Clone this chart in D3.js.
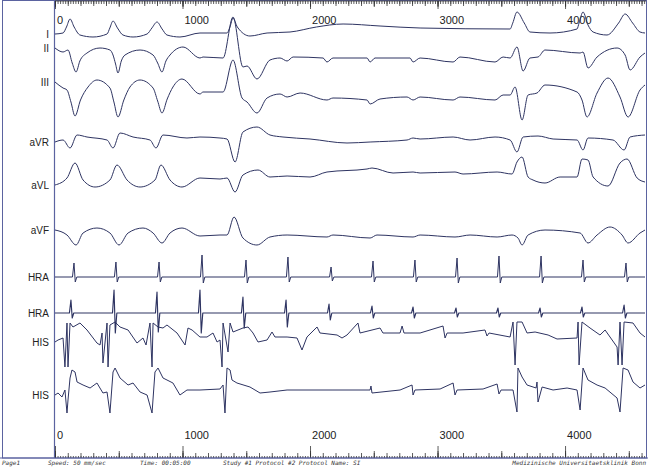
<!DOCTYPE html>
<html>
<head>
<meta charset="utf-8">
<script src="https://cdn.jsdelivr.net/npm/d3@7"></script>
<style>
  body { margin: 0; background: #fff; }
  svg { display: block; }
  .lbl { font-family: "Liberation Sans", Arial, sans-serif; font-size: 10px; fill: #222; }
  .foot { font-family: "DejaVu Sans Mono", monospace; font-size: 6px; font-style: italic; fill: #333; }
</style>
</head>
<body>
<div id="chart"></div>
<script>
// time in ms, amplitude in mV-ish units (up = positive)
var channelNames = ["I", "II", "III", "aVR", "aVL", "aVF", "HRA", "HRA", "HIS", "HIS"];
var tickLabels = ["0", "1000", "2000", "3000", "4000"];

var leadI = [[0,-0.05],[63,0],[90,0.3],[118,0.7],[150,0.3],[196,-0.1],[298,-0.2],[408,-0.05],[430,0.25],[455,0.6],[490,0.25],[533,-0.1],[612,-0.2],[722,-0.05],[760,0.25],[800,0.55],[840,0.2],[878,-0.1],[980,-0.2],[1137,0],[1349,0],[1372,0.3],[1396,0.75],[1430,0.3],[1529,-0.15],[1663,0],[1843,0.05],[2050,0.3],[2259,0.45],[2549,0.35],[2863,0.25],[3569,0.2],[3590,0.5],[3623,1.05],[3680,0.5],[3725,0.05],[3882,0],[4094,0.2],[4110,0.5],[4141,1.05],[4180,0.4],[4220,0.05],[4329,-0.1],[4420,0.5],[4471,0.95],[4530,0.5],[4588,0.05],[4627,0]];
var leadII = [[0,0.45],[63,0.25],[102,0.35],[135,-0.3],[165,-0.75],[195,-0.2],[251,0.2],[353,0.45],[431,0.35],[455,0.1],[475,-0.35],[494,-0.8],[520,-0.2],[549,0.1],[667,0.35],[769,0.1],[805,-0.3],[839,-0.75],[870,-0.2],[902,0.1],[1004,0.5],[1137,-0.05],[1161,0],[1318,-0.05],[1396,2.0],[1474,-0.5],[1506,-0.45],[1584,-1.1],[1686,-0.15],[1765,-0.05],[1820,-0.2],[1867,0],[2102,-0.05],[2133,-0.25],[2180,-0.05],[2447,-0.05],[2471,-0.25],[2510,-0.05],[2784,-0.05],[2808,-0.25],[2863,-0.05],[3122,-0.25],[3176,0],[3451,-0.25],[3514,0],[3569,-0.05],[3623,0.5],[3671,-0.7],[3725,-0.05],[3788,0],[3843,0.35],[4118,0.2],[4141,0.25],[4180,-0.55],[4251,0],[4408,0.45],[4471,0.1],[4510,-0.65],[4588,0],[4627,0.2]];
var leadIII = [[0,0.5],[63,0.2],[94,0.1],[125,-0.5],[157,-1.2],[200,-0.4],[259,0.25],[329,0.6],[431,0.2],[462,-0.5],[494,-1.25],[540,-0.4],[588,0.25],[667,0.6],[769,0.2],[805,-0.45],[839,-1.05],[880,-0.35],[925,0.25],[996,0.65],[1137,-0.1],[1161,0],[1318,0],[1396,1.6],[1467,-0.3],[1506,-0.5],[1584,-1.05],[1663,-0.3],[1765,-0.1],[1820,-0.25],[1922,-0.05],[2133,-0.4],[2180,-0.3],[2447,-0.4],[2471,-0.6],[2549,-0.35],[2761,-0.25],[2808,-0.4],[2863,-0.25],[3122,-0.4],[3176,-0.25],[3451,-0.4],[3514,-0.15],[3569,-0.15],[3608,0.25],[3663,-1.4],[3710,-0.15],[3780,-0.05],[3843,0.35],[4094,0],[4133,-0.4],[4172,-1.25],[4251,-0.05],[4337,0.7],[4431,-0.25],[4494,-1.25],[4588,0.1],[4627,0.35]];
var leadAVR = [[0,-0.15],[63,-0.05],[118,-0.45],[173,0.2],[251,0.1],[408,-0.05],[455,-0.45],[510,0.3],[612,0.1],[745,-0.05],[792,-0.45],[847,0.2],[1035,0.05],[1137,0.1],[1294,0.05],[1349,0],[1412,-1.15],[1474,0.35],[1584,0.6],[1686,0.2],[1788,0.1],[2000,0],[2290,-0.2],[2471,-0.15],[2761,-0.05],[2808,0.05],[2863,0],[3122,0.1],[3255,-0.05],[3451,0.1],[3569,-0.05],[3623,-0.65],[3671,0.1],[3788,0.15],[3906,0],[4094,-0.05],[4141,-0.55],[4180,0.05],[4376,-0.05],[4463,-0.55],[4510,0.1],[4627,0.2]];
var leadAVL = [[0,-0.35],[94,0],[157,0.75],[220,-0.1],[314,-0.45],[431,-0.1],[486,0.65],[565,-0.1],[667,-0.45],[784,-0.1],[831,0.65],[902,-0.1],[996,-0.45],[1137,0],[1294,-0.05],[1349,0],[1412,-0.7],[1474,0.15],[1592,0.4],[1686,0.05],[1820,0.1],[2000,0.05],[2133,0.3],[2447,0.45],[2486,0.5],[2651,0.25],[2808,0.3],[2863,0.25],[3137,0.3],[3200,0.2],[3467,0.3],[3584,0.2],[3623,0.8],[3663,1.05],[3710,0.05],[3749,-0.1],[3843,-0.25],[3961,0.05],[4094,0.05],[4133,0.95],[4180,0.9],[4220,0.05],[4337,-0.4],[4431,0.75],[4486,0.95],[4565,0],[4627,-0.2]];
var leadAVF = [[0,0.25],[94,0],[165,-0.5],[220,0.1],[329,0.35],[431,0.1],[502,-0.5],[573,0.1],[690,0.35],[769,0.1],[839,-0.4],[902,0.1],[996,0.35],[1137,-0.05],[1294,0],[1349,0],[1404,0.9],[1474,-0.15],[1584,-0.5],[1686,-0.1],[1820,0],[2133,-0.1],[2180,0],[2471,-0.15],[2525,0],[2808,-0.1],[2863,0],[3137,-0.1],[3255,0],[3467,-0.1],[3584,0],[3631,-0.15],[3663,-0.5],[3710,0],[3843,0.25],[4118,0.1],[4180,-0.4],[4251,0],[4353,0.4],[4447,0],[4494,-0.4],[4588,0.1],[4627,0.25]];

// atrial spikes: time, height above and depth below baseline
var hra1Times = [149, 478, 816, 1153, 1498, 1827, 2165, 2494, 2823, 3153, 3482, 3812, 4141, 4478];
var hra1Up = [0.7, 0.75, 0.75, 1.1, 0.85, 1.0, 0.5, 0.8, 0.85, 0.95, 1.05, 1.05, 0.85, 0.7];
var hra1Down = [0.25, 0.25, 0.25, 0.3, 0.3, 0.25, 0.2, 0.25, 0.25, 0.3, 0.3, 0.3, 0.25, 0.25];
var hra2Times = [125, 463, 800, 1137, 1474, 1812, 2149, 2486, 2808, 3145, 3474, 3804, 4133, 4463];
var hra2Up = [0.65, 1.15, 1.05, 1.15, 0.8, 0.65, 0.45, 0.35, 0.3, 0.25, 0.25, 0.25, 0.3, 0.4];
var hra2Down = [0.25, 1.0, 0.95, 1.0, 0.75, 0.7, 0.35, 0.25, 0.25, 0.2, 0.2, 0.2, 0.2, 0.25];

var his1 = [[0,-0.35],[24,-0.25],[63,-0.15],[78,-1.6],[94,0.6],[102,-1.6],[118,0.6],[141,0.4],[196,0.6],[251,0.25],[329,-0.4],[353,-0.5],[369,0.1],[376,-1.4],[408,0.6],[416,-1.6],[431,0.5],[471,0.65],[510,0.4],[573,0.25],[643,-0.4],[690,-0.15],[714,-0.5],[745,0.6],[761,-1.6],[769,0.6],[808,0.4],[847,0.35],[878,0.5],[957,0.1],[1020,-0.5],[1043,0.35],[1075,0.25],[1137,-0.1],[1192,-0.1],[1239,0.1],[1271,-0.35],[1294,-0.25],[1310,-1.6],[1318,0.6],[1357,-0.85],[1373,0.6],[1396,0.15],[1474,0.35],[1514,0.4],[1553,0.1],[1592,-0.35],[1663,-0.25],[1702,0.15],[1725,-0.1],[1820,-0.1],[1898,-0.15],[1937,-0.75],[1976,-0.1],[2055,0.4],[2078,0.1],[2212,0],[2251,-0.15],[2290,0],[2376,0.6],[2392,0.1],[2549,0.35],[2572,0.1],[2706,0.1],[2722,0.45],[2737,0.1],[2863,0.1],[3043,0.45],[3059,-0.15],[3075,0.1],[3200,0.1],[3372,0.25],[3388,-0.05],[3404,0.1],[3569,-0.1],[3592,0.65],[3608,-1.5],[3623,0.65],[3663,0.65],[3702,0.1],[3765,0.15],[3867,0],[3937,-0.2],[4094,-0.15],[4102,0.65],[4110,-1.5],[4133,0.65],[4196,0.35],[4274,0],[4314,0.25],[4408,-0.6],[4416,-1.5],[4431,0.65],[4447,-1.5],[4463,0.65],[4533,0.6],[4588,0.1],[4627,-0.1]];
var his2 = [[0,-0.25],[24,-0.15],[55,-0.35],[78,0],[94,-1.15],[102,-0.5],[118,0.6],[133,1.0],[157,0.9],[173,0.4],[220,0.25],[275,0.1],[329,0.35],[376,-0.15],[408,-0.1],[431,-1.15],[455,0.9],[471,1.1],[510,0.6],[573,0.25],[612,0.35],[667,-0.1],[722,-0.25],[761,-1.15],[784,0.9],[808,1.1],[847,0.6],[925,0.35],[980,-0.25],[1035,0],[1137,0],[1294,0.05],[1318,0.25],[1333,-1.15],[1349,1.1],[1373,1.0],[1388,0.5],[1427,0.35],[1529,0.15],[1608,-0.15],[1686,-0.1],[1820,0],[2180,0],[2471,0],[2478,0.2],[2486,-0.15],[2706,0],[2800,0.25],[2808,-0.25],[2823,0],[3020,0.05],[3122,0.35],[3137,-0.25],[3153,0],[3357,0.05],[3467,0.3],[3482,-0.2],[3498,0],[3592,0],[3623,-1.1],[3631,1.1],[3663,0.65],[3702,0.25],[3773,0.1],[3780,0.4],[3788,-0.6],[3820,0.15],[3906,0],[4016,0.1],[4094,0],[4118,-1.0],[4141,1.1],[4180,0.5],[4251,0.25],[4314,0.1],[4408,-0.4],[4431,-1.1],[4455,1.1],[4494,1.0],[4533,0.4],[4588,0.1],[4627,0.25]];

var footLeft = ["Page1", "Speed: 50 mm/sec", "Time: 00:05:00", "Study #1  Protocol #2  Protocol Name: SI"];
var footRight = "Medizinische Universitaetsklinik Bonn";

var width = 650, height = 472;
var traceColor = "#2e3462", frameColor = "#5b63a0";
// baseline of each channel, in px
var rowBase = [33, 57, 92, 139, 178, 235, 277, 313, 335, 390];

var x = d3.scaleLinear().domain([0, 4627]).range([55, 645]);
var gain = d3.scaleLinear().domain([-1, 1]).range([20, -20]);

var svg = d3.select("#chart").append("svg").attr("width", width).attr("height", height);

// spike events to a trace
function spikeTrace(times, up, down) {
  var pts = [[0, 0]];
  times.forEach(function (t, i) {
    pts.push([t - 12, 0], [t, up[i]], [t + 10, -down[i]], [t + 22, 0]);
  });
  pts.push([4627, 0]);
  return pts;
}

var channels = [
  { data: leadI, smooth: true }, { data: leadII, smooth: true }, { data: leadIII, smooth: true },
  { data: leadAVR, smooth: true }, { data: leadAVL, smooth: true }, { data: leadAVF, smooth: true },
  { data: spikeTrace(hra1Times, hra1Up, hra1Down), smooth: false },
  { data: spikeTrace(hra2Times, hra2Up, hra2Down), smooth: false },
  { data: his1, smooth: false }, { data: his2, smooth: false }
];

// frame
svg.append("rect").attr("x", 2.5).attr("y", 0.5).attr("width", 644).attr("height", 457.5)
  .attr("fill", "none").attr("stroke", frameColor).attr("stroke-width", 1);
svg.append("line").attr("x1", 54.5).attr("x2", 54.5).attr("y1", 0).attr("y2", 458)
  .attr("stroke", frameColor).attr("stroke-width", 1.2);

// rulers
function ruler(axisFn, yPos, step, size) {
  var g = svg.append("g").attr("transform", "translate(0," + yPos + ")")
    .call(axisFn(x).tickValues(d3.range(0, 4627, step)).tickSize(size).tickFormat(""));
  g.select(".domain").remove();
  g.selectAll("line").attr("stroke", "#333").attr("stroke-width", 0.8);
}
ruler(d3.axisBottom, 1, 20, 3);
ruler(d3.axisBottom, 1, 100, 5);
ruler(d3.axisBottom, 1, 500, 6);
ruler(d3.axisBottom, 1, 1000, 8);
ruler(d3.axisTop, 458, 20, 2);
ruler(d3.axisTop, 458, 100, 5);
ruler(d3.axisTop, 458, 500, 7);
ruler(d3.axisTop, 458, 1000, 12);
svg.append("line").attr("x1", 55).attr("x2", 646).attr("y1", 1).attr("y2", 1).attr("stroke", "#333").attr("stroke-width", 0.8);
svg.append("line").attr("x1", 0).attr("x2", 648).attr("y1", 458).attr("y2", 458).attr("stroke", frameColor).attr("stroke-width", 1.2);

[24, 439].forEach(function (ty) {
  svg.append("g").selectAll("text").data(tickLabels).join("text")
    .attr("class", "lbl").attr("x", function (d) { return x(+d) + 2; }).attr("y", ty)
    .style("font-size", "11px").text(function (d) { return d; });
});

// traces
channels.forEach(function (c, i) {
  var line = d3.line()
    .x(function (d) { return x(d[0]); })
    .y(function (d) { return rowBase[i] + gain(d[1]); })
    .curve(c.smooth ? d3.curveMonotoneX : d3.curveLinear);
  svg.append("path").datum(c.data).attr("d", line)
    .attr("fill", "none").attr("stroke", traceColor)
    .attr("stroke-width", i === 7 ? 1.15 : 1).attr("stroke-linejoin", "round");
  svg.append("text").attr("class", "lbl")
    .attr("x", 49).attr("y", rowBase[i] + gain(c.data[0][1]) + 1.5)
    .attr("text-anchor", "end").attr("dominant-baseline", "middle")
    .text(channelNames[i]);
});

// footer
var footX = [2, 48, 140, 223];
svg.selectAll(".footL").data(footLeft).join("text").attr("class", "foot")
  .attr("x", function (d, i) { return footX[i]; }).attr("y", 465).text(function (d) { return d; });
svg.append("text").attr("class", "foot").attr("x", 646).attr("y", 465)
  .attr("text-anchor", "end").text(footRight);
</script>
</body>
</html>
